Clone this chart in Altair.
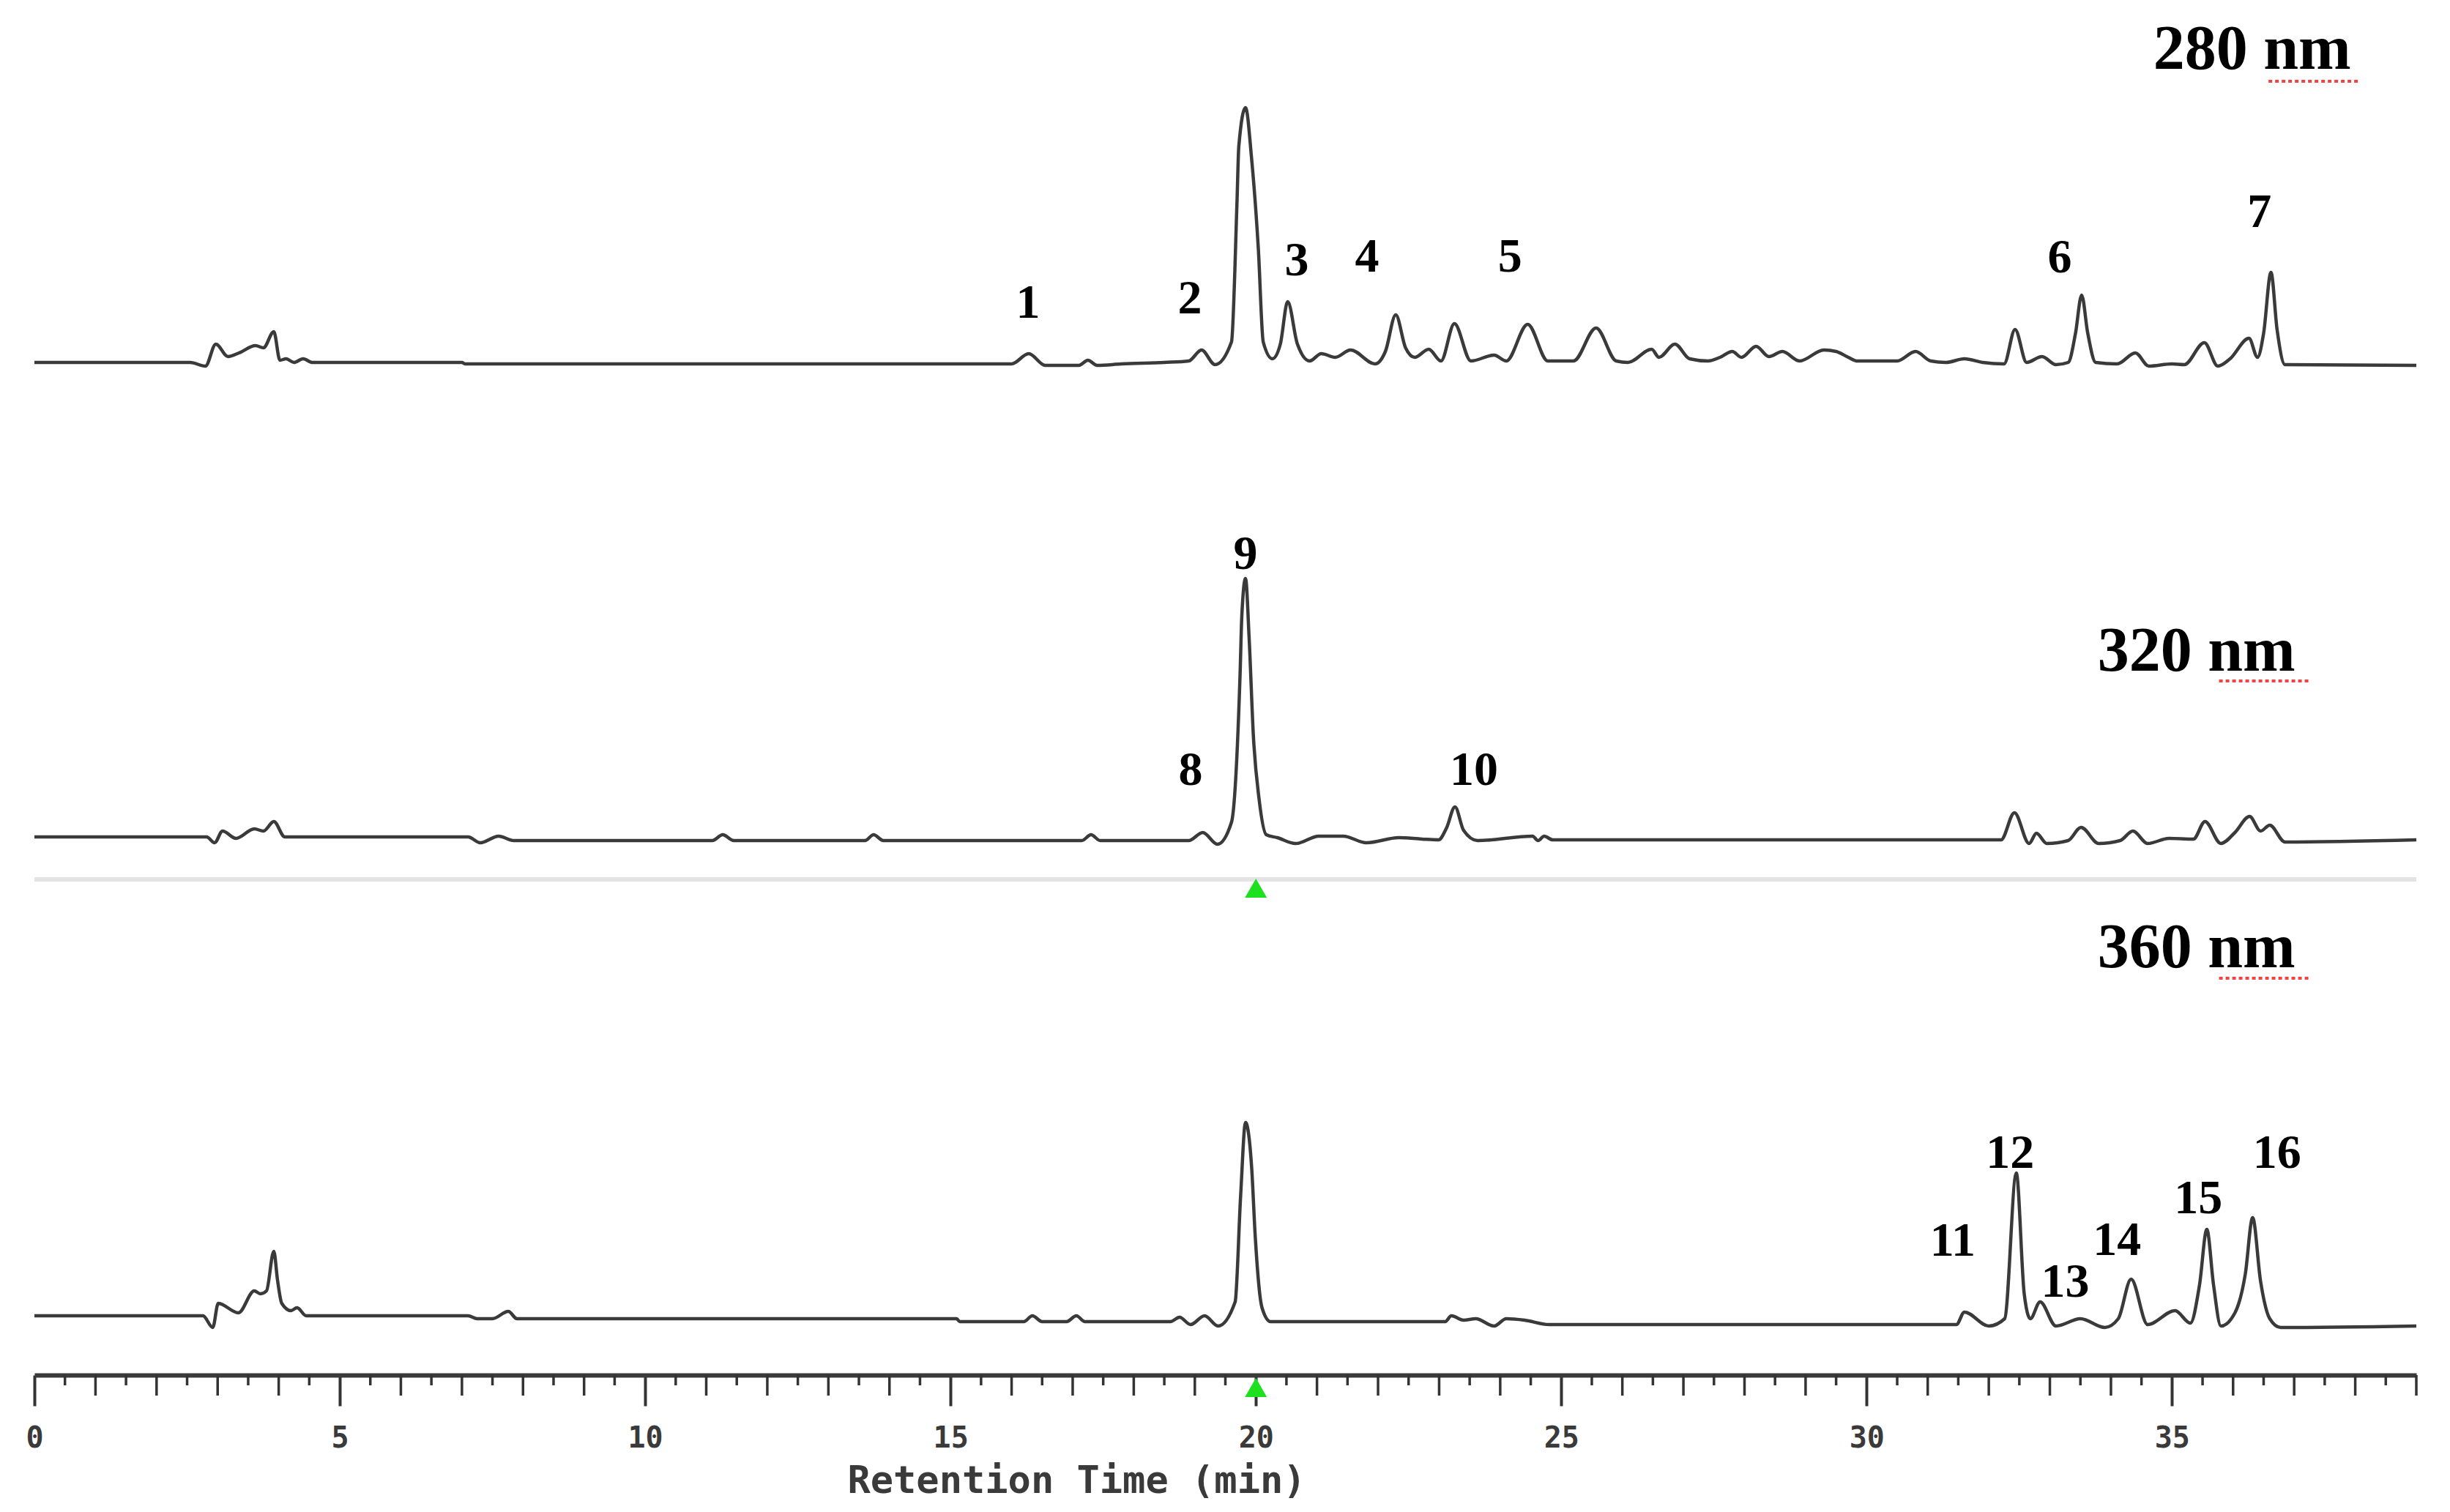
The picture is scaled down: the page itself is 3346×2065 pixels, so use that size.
import altair as alt
import pandas as pd

# ---------------- data ----------------
# retention time (min) and detector signal (arbitrary units above baseline)
t280 = [0.0, 2.55, 2.8, 2.97, 3.17, 3.35, 3.62, 3.75, 3.92, 4.02, 4.12, 4.25, 4.4, 4.55,
        7.0, 7.05, 16.0, 16.28, 16.55, 17.1, 17.25, 17.4, 17.8, 18.5, 18.9, 19.11, 19.33,
        19.6, 19.69, 19.72, 19.83, 19.93, 20.04, 20.12, 20.27, 20.4, 20.52, 20.68, 20.88,
        21.07, 21.3, 21.55, 21.95, 22.12, 22.29, 22.45, 22.6, 22.83, 23.03, 23.25, 23.52,
        23.9, 24.1, 24.45, 24.78, 25.2, 25.57, 25.9, 26.09, 26.48, 26.6, 26.86, 27.1, 27.4,
        27.6, 27.8, 27.95, 28.19, 28.4, 28.62, 28.9, 29.3, 29.5, 29.7, 29.85, 30.5, 30.8,
        31.05, 31.3, 31.6, 31.9, 32.25, 32.43, 32.62, 32.87, 33.1, 33.3, 33.42, 33.52, 33.62,
        33.75, 34.1, 34.4, 34.62, 35.0, 35.2, 35.53, 35.75, 35.95, 36.26, 36.4, 36.5, 36.62,
        36.72, 36.85, 39.0]
s280 = [0, 0, -5, 25, 8, 13, 23, 20, 42, 3, 5, 0, 5, 0,
        0, -2, -2, 12, -4, -4, 3, -4, -2, 0, 2, 17, -3,
        28, 218, 295, 348, 278, 155, 28, 5, 25, 83, 25, 2,
        12, 7, 17, -2, 15, 65, 20, 7, 18, 2, 53, 2,
        10, 2, 52, 2, 2, 47, 2, 0, 18, 7, 25, 5, 2,
        7, 15, 7, 22, 8, 15, 2, 17, 15, 7, 2, 2, 15,
        2, 0, 5, 0, -2, 45, 0, 8, -3, 0, 40, 92, 40,
        0, -2, 13, -5, -2, -3, 27, -5, 5, 33, 7, 40, 123,
        45, -3, -4]

t320 = [0.0, 2.82, 2.95, 3.08, 3.3, 3.6, 3.75, 3.92, 4.1, 7.1, 7.3, 7.6, 7.85, 11.1, 11.27,
        11.45, 13.6, 13.74, 13.9, 17.15, 17.3, 17.45, 18.9, 19.13, 19.37, 19.6, 19.74, 19.77,
        19.83, 19.89, 19.96, 20.05, 20.17, 20.35, 20.65, 21.03, 21.43, 21.81, 22.34, 22.72,
        22.99, 23.12, 23.26, 23.4, 23.63, 24.53, 24.62, 24.72, 24.86, 32.2, 32.42, 32.66,
        32.78, 32.95, 33.3, 33.51, 33.8, 34.15, 34.36, 34.6, 34.95, 35.35, 35.54, 35.8, 36.03,
        36.27, 36.45, 36.6, 36.85, 39.0]
s320 = [3, 3, -5, 11, 1, 14, 11, 24, 3, 3, -5, 4, -2, -2, 6,
        -2, -2, 6, -2, -2, 6, -2, -2, 9, -7, 23, 223, 306,
        356, 273, 139, 56, 6, 2, -6, 4, 4, -5, 2, 0,
        -1, 15, 44, 12, -2, 4, -2, 4, -1, -1, 36, -6,
        8, -6, -2, 16, -6, -2, 11, -6, 1, 0, 24, -6, 9,
        31, 11, 19, -4, -1]

t360 = [0.0, 2.76, 2.92, 3.01, 3.34, 3.6, 3.7, 3.8, 3.92, 3.98, 4.05, 4.2, 4.3, 4.45, 7.1,
        7.25, 7.5, 7.76, 7.9, 15.1, 15.15, 16.2, 16.34, 16.5, 16.9, 17.06, 17.2, 18.6, 18.75,
        18.93, 19.16, 19.38, 19.66, 19.75, 19.83, 19.93, 19.99, 20.1, 20.24, 23.1, 23.2, 23.4,
        23.6, 23.9, 24.1, 24.4, 24.8, 31.47, 31.6, 32.0, 32.26, 32.45, 32.58, 32.68, 32.84,
        33.1, 33.5, 33.9, 34.12, 34.33, 34.6, 35.05, 35.3, 35.45, 35.57, 35.68, 35.8, 36.03,
        36.2, 36.32, 36.45, 36.6, 36.78, 39.0]
s360 = [3, 3, -13, 20, 7, 37, 33, 37, 91, 52, 20, 10, 14, 3, 3,
        -1, -1, 9, -1, -1, -5, -5, 3, -5, -5, 3, -5, -5, 1,
        -9, 3, -11, 22, 167, 267, 206, 110, 14, -5, -5, 3, -3,
        -1, -11, -1, -3, -9, -9, 8, -11, -1, 198, 33, -1, 22,
        -11, -1, -13, -1, 53, -9, 10, -7, 45, 121, 45, -11, 7,
        60, 137, 50, -1, -13, -11]

# peak numbers (label text, time, signal level of the label)
lab280 = ["1", "2", "3", "4", "5", "6", "7"]
lab280_t = [16.27, 18.92, 20.67, 21.82, 24.16, 33.16, 36.43]
lab280_s = [81, 87, 139, 144, 144, 143, 205]

lab320 = ["8", "9", "10"]
lab320_t = [18.93, 19.83, 23.57]
lab320_s = [94, 389, 94]

lab360 = ["11", "12", "13", "14", "15", "16"]
lab360_t = [31.41, 32.35, 33.25, 34.10, 35.43, 36.72]
lab360_s = [105, 225, 49, 106, 163, 225]

wl_text = ["280 nm", "320 nm", "360 nm"]
wl_t = [36.31, 35.40, 35.40]
wl_s = [427, 256, 505]
# red spell-check underline below "nm" (start / end time, level)
ul_t1 = [36.58, 35.77, 35.77]
ul_t2 = [38.08, 37.24, 37.24]
ul_s = [384, 216, 464]

marker_t = [20.0, 20.0]
marker_s = [587, -95]

major_ticks = [0, 5, 10, 15, 20, 25, 30, 35]
int_ticks = [i for i in range(1, 40) if i % 5 != 0]
half_ticks = [i + 0.5 for i in range(39)]

# ---------------- layout ----------------
W = 3253
HA, HB, HC = 552, 639, 679
LINE = "#3a3a3a"
SERIF = "Liberation Serif"

xs = alt.Scale(domain=[0, 39], nice=False, zero=False)

axisC = alt.Axis(
    values=major_ticks, format="d", grid=False,
    domainColor="#3a3a3a", domainWidth=6,
    tickColor="#333333", tickWidth=4, tickSize=42,
    labelFont="DejaVu Sans Mono", labelFontSize=40, labelFontWeight="bold",
    labelColor="#3a3a3a", labelPadding=24, labelFlush=False,
    title="Retention Time (min)", titleFont="DejaVu Sans Mono", titleFontSize=52,
    titleFontWeight="bold", titleColor="#3a3a3a", titleX=1423, titleY=160,
    titleAlign="center", titleBaseline="alphabetic",
)


def panel(t, s, ydom, labs, labs_t, labs_s, idx, xaxis):
    ys = alt.Scale(domain=ydom, nice=False, zero=False)
    X = alt.X("t:Q", scale=xs, axis=xaxis)
    Y = alt.Y("s:Q", scale=ys, axis=None)
    line = alt.Chart(pd.DataFrame({"t": t, "s": s})).mark_line(
        color=LINE, strokeWidth=4.5, interpolate="monotone"
    ).encode(x=X, y=Y)
    labels = alt.Chart(pd.DataFrame({"t": labs_t, "s": labs_s, "txt": labs})).mark_text(
        font=SERIF, fontWeight="bold", fontSize=66, color="#000000",
        align="center", baseline="middle"
    ).encode(x=X, y=Y, text="txt:N")
    wl = alt.Chart(pd.DataFrame({"t": [wl_t[idx]], "s": [wl_s[idx]], "txt": [wl_text[idx]]})).mark_text(
        font=SERIF, fontWeight="bold", fontSize=86, color="#000000",
        align="center", baseline="middle"
    ).encode(x=X, y=Y, text="txt:N")
    underline = alt.Chart(pd.DataFrame({"t": [ul_t1[idx]], "t2": [ul_t2[idx]], "s": [ul_s[idx]]})).mark_rule(
        color="#ee4444", strokeWidth=4, strokeDash=[5, 4]
    ).encode(x=X, x2="t2:Q", y=Y)
    return [line, labels, wl, underline], ys, X


la, _, _ = panel(t280, s280, [-65, 487], lab280, lab280_t, lab280_s, 0, None)
pA = alt.layer(*la).properties(width=W, height=HA)

lb, _, _ = panel(t320, s320, [-53, 586], lab320, lab320_t, lab320_s, 1, None)
pB = alt.layer(*lb).properties(width=W, height=HB)

lc, ysC, XC = panel(t360, s360, [-78, 601], lab360, lab360_t, lab360_s, 2, axisC)

sep = alt.Chart(pd.DataFrame({"a": [0]})).mark_rule(color="#e3e3e3", strokeWidth=6).encode(
    x=alt.value(0), x2=alt.value(W), y=alt.value(2)
)
half_rules = alt.Chart(pd.DataFrame({"t": half_ticks})).mark_rule(color="#333333", strokeWidth=3.5).encode(
    x=XC, y=alt.value(HC), y2=alt.value(HC + 14)
)
int_rules = alt.Chart(pd.DataFrame({"t": int_ticks})).mark_rule(color="#333333", strokeWidth=3.5).encode(
    x=XC, y=alt.value(HC), y2=alt.value(HC + 28)
)
markers = alt.Chart(pd.DataFrame({"t": marker_t, "s": marker_s})).mark_point(
    shape="triangle-up", filled=True, color="#1ee01e", opacity=1, size=900
).encode(x=XC, y=alt.Y("s:Q", scale=ysC, axis=None))

pC = alt.layer(sep, *lc, half_rules, int_rules, markers).properties(width=W, height=HC)

chart = alt.vconcat(pA, pB, pC, spacing=0, bounds="flush").resolve_scale(
    x="independent", y="independent"
).properties(
    padding={"left": 26, "top": 0, "right": 10, "bottom": 10},
    background="white",
).configure_view(stroke=None)

chart.save("out.html", embed_options={"renderer": "svg", "actions": False})
